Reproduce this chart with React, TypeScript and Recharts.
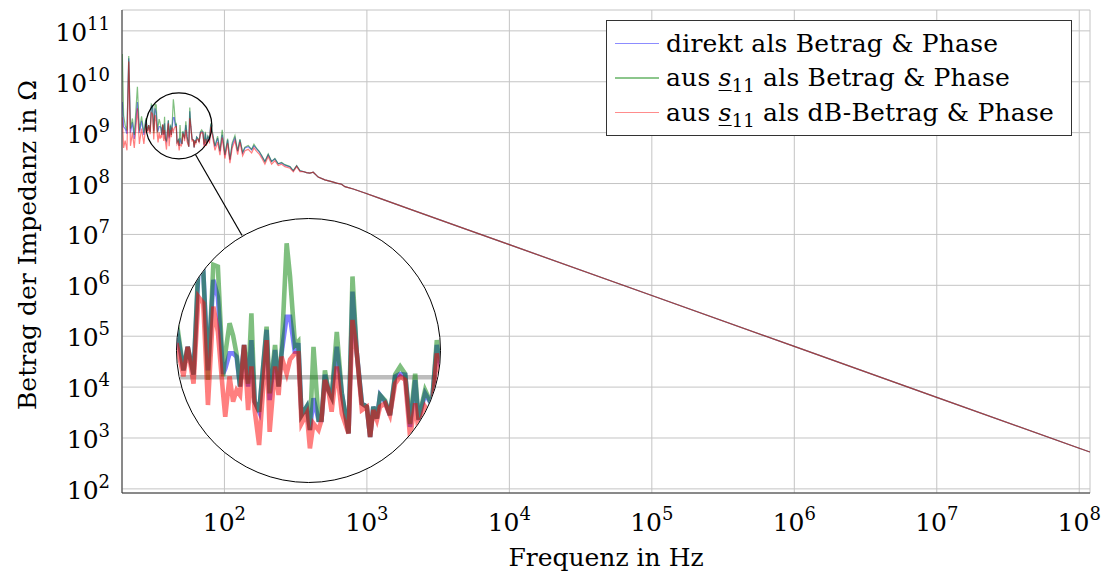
import React from 'react';
import { LineChart, Line, XAxis, YAxis, CartesianGrid, ReferenceDot, ReferenceLine } from 'recharts';

// Noisy low-frequency part (and off the magnified spy circle)
const freqNoisy = [
  19.2, 19.6, 20.1, 20.7, 21.3, 21.9, 22.6, 23.3, 24.5, 25.3, 26.2, 27.2,
  28.1, 28.9, 29.4, 30.1, 30.7, 31.3, 31.9, 32.6, 33.2, 33.9,
  34.2, 34.8, 35.3, 35.8, 36.3, 36.9, 37.5, 38.0, 38.5, 39.2,
  40.4, 40.9, 41.8, 42.4, 42.9, 43.8, 44.4, 45.3, 45.9, 46.5,
  47.5, 48.1, 48.8, 49.8, 50.4, 51.1, 51.8, 52.5, 53.6, 54.7,
  56.2, 57.1, 58.1, 59.3, 60.5, 61.3, 62.1, 63.0, 63.8, 65.1,
  66.4, 67.8, 69.2, 70.6, 72.0, 73.5, 74.5, 76.5, 78.6, 80.2,
  85.8, 89.6, 93.0, 96.5, 100.8, 105.3, 109.3, 113.4, 118.5, 123.8,
  128.5, 134.2, 139.3, 146.9, 155.2, 161.1, 168.3, 175.5, 182.3, 192.4,
  202.9, 214.3, 226, 238.6, 251.8, 265.8, 288.4, 304.3, 321.3, 339,
];

const direktNoisy = [
  4.0e9, 1.3e9, 1.2e9, 9.5e8, 2.9e10, 1.0e9, 1.6e9, 7.5e8, 4.0e9, 1.0e9, 1.7e9, 9.0e8,
  1.77e9, 1.08e9, 1.41e9, 1.03e9, 3.36e9, 3.36e9, 1.08e9, 3.0e9, 2.48e9, 1.04e9,
  1.1e9, 1.31e9, 1.31e9, 1.26e9, 9.0e8, 1.44e9, 9.0e8, 1.52e9, 7.59e8, 6.78e8,
  1.71e9, 7.73e8, 1.36e9, 9.0e8, 1.31e9, 1.98e9, 1.98e9, 1.31e9, 1.47e9, 6.52e8,
  7.17e8, 5.51e8, 7.88e8, 6.17e8, 6.17e8, 1.03e9, 8.65e8, 8.0e8, 1.41e9, 8.34e8,
  5.3e8, 2.63e9, 1.31e9, 7.45e8, 7.17e8, 5.1e8, 7.17e8, 6.28e8, 8.18e8, 7.59e8,
  6.52e8, 1.01e9, 1.04e9, 1.03e9, 5.71e8, 9.7e8, 6.17e8, 8.34e8, 7.31e8, 1.44e9,
  5.3e8, 7.8e8, 4.3e8, 9.1e8, 3.6e8, 7.2e8, 2.9e8, 5.8e8, 7.9e8, 4.3e8,
  7.2e8, 4.0e8, 5.0e8, 5.3e8, 4.6e8, 5.5e8, 4.8e8, 4.2e8, 3.5e8, 2.7e8,
  3.7e8, 2.7e8, 3.05e8, 2.45e8, 2.55e8, 2.3e8, 2.13e8, 1.78e8, 2.23e8, 1.78e8,
];

const s11Noisy = [
  3.5e10, 2.2e9, 1.4e9, 1.1e9, 3.2e10, 1.2e9, 1.9e9, 9.0e8, 8.0e9, 1.1e9, 2.1e9, 1.0e9,
  1.91e9, 1.08e9, 1.41e9, 1.03e9, 3.62e9, 3.36e9, 9.7e8, 3.56e9, 3.49e9, 1.01e9,
  1.3e9, 1.84e9, 1.6e9, 1.3e9, 9.0e8, 1.44e9, 9.3e8, 2.06e9, 7.6e8, 6.78e8,
  1.77e9, 8.34e8, 1.44e9, 9.0e8, 1.31e9, 4.54e9, 3.12e9, 1.44e9, 1.5e9, 6.5e8,
  7.2e8, 5.51e8, 1.41e9, 6.2e8, 6.2e8, 1.08e9, 8.65e8, 8.0e8, 1.67e9, 8.34e8,
  5.3e8, 3.12e9, 1.31e9, 7.45e8, 7.17e8, 5.1e8, 7.17e8, 6.28e8, 8.18e8, 7.7e8,
  6.52e8, 1.03e9, 1.13e9, 1.04e9, 5.9e8, 1.04e9, 6.2e8, 8.65e8, 7.31e8, 1.52e9,
  5.5e8, 8.5e8, 4.4e8, 1.14e9, 3.7e8, 7.6e8, 3.0e8, 6.3e8, 8.8e8, 4.4e8,
  7.5e8, 4.1e8, 5.2e8, 5.6e8, 4.7e8, 5.9e8, 4.9e8, 4.3e8, 3.6e8, 2.7e8,
  3.8e8, 2.7e8, 3.1e8, 2.45e8, 2.6e8, 2.35e8, 2.15e8, 1.8e8, 2.25e8, 1.8e8,
];

const s11dBNoisy = [
  2.0e9, 5.0e8, 7.0e8, 4.5e8, 2.5e10, 5.5e8, 1.0e9, 5.0e8, 3.0e9, 6.0e8, 1.2e9, 6.0e8,
  1.47e9, 1.01e9, 1.41e9, 9.3e8, 2.48e9, 2.31e9, 7.31e8, 2.22e9, 1.67e9, 8.34e8,
  6.4e8, 1.01e9, 7.59e8, 8.65e8, 8.18e8, 1.44e9, 6.9e8, 1.13e9, 6.9e8, 4.65e8,
  1.52e9, 5.4e8, 1.13e9, 8.18e8, 1.26e9, 1.04e9, 1.22e9, 1.31e9, 1.31e9, 5.93e8,
  6.65e8, 4.48e8, 5.93e8, 5.51e8, 6.17e8, 9.7e8, 8.65e8, 6.78e8, 1.13e9, 6.65e8,
  5.3e8, 1.91e9, 1.31e9, 6.9e8, 7.17e8, 5.1e8, 6.9e8, 6.17e8, 7.17e8, 7.45e8,
  6.52e8, 9.3e8, 1.01e9, 9.7e8, 5.1e8, 7.45e8, 5.5e8, 7.17e8, 6.4e8, 1.31e9,
  4.5e8, 6.5e8, 3.6e8, 8.0e8, 3.1e8, 6.2e8, 2.5e8, 5.0e8, 7.0e8, 3.7e8,
  6.5e8, 3.5e8, 4.4e8, 4.7e8, 4.0e8, 5.0e8, 4.3e8, 3.8e8, 3.2e8, 2.4e8,
  3.4e8, 2.4e8, 2.8e8, 2.25e8, 2.4e8, 2.15e8, 2.0e8, 1.7e8, 2.15e8, 1.72e8,
];

// above ~350 Hz the three curves lie on top of each other
const freqTail = [357, 377, 398, 420, 439, 455, 507, 565, 613, 664, 701, 802, 968, 1234, 2000, 5000, 1e4, 1e5, 1e6, 1e7, 1e8, 1.19e8];
const impedanceTail = [1.72e8, 1.64e8, 1.6e8, 1.67e8, 1.48e8, 1.34e8, 1.18e8, 1.09e8, 1.02e8, 9.7e7, 8.7e7, 7.8e7, 6.5e7, 5.1e7, 3.15e7, 1.26e7, 6.3e6, 6.3e5, 6.3e4, 6.3e3, 630, 530];

const xMajorTicks = [1e2, 1e3, 1e4, 1e5, 1e6, 1e7, 1e8];
const yMajorTicks = [1e2, 1e3, 1e4, 1e5, 1e6, 1e7, 1e8, 1e9, 1e10, 1e11];

const seriesNames = ['direkt als Betrag & Phase', 'aus s11 als Betrag & Phase', 'aus s11 als dB-Betrag & Phase'];

const X_DOMAIN = [19.1, 1.19e8];
const Y_DOMAIN = [83, 2.57e11];
const SPY_X_DOMAIN = [28.16, 81.23];
const SPY_Y_DOMAIN = [3.065e8, 5.97e9];

const FONT = '"DejaVu Serif", serif';
const COLORS = { direkt: '#0000ff', s11: '#008000', s11dB: '#ff0000' };
const FRAME = '#333';
const TICK = '#666';

const rows = [
  ...freqNoisy.map((f, i) => ({ f, direkt: direktNoisy[i], s11: s11Noisy[i], s11dB: s11dBNoisy[i] })),
  ...freqTail.map((f, i) => ({ f, direkt: impedanceTail[i], s11: impedanceTail[i], s11dB: impedanceTail[i] })),
];

// tick positions 1..9 x 10^n inside a domain
function logTicks(lo: number, hi: number) {
  const out: number[] = [];
  for (let e = Math.floor(Math.log10(lo)); e <= Math.ceil(Math.log10(hi)); e++) {
    for (let m = 1; m <= 9; m++) {
      const v = m * Math.pow(10, e);
      if (v >= lo && v <= hi) out.push(v);
    }
  }
  return out;
}
const xAllTicks = logTicks(X_DOMAIN[0], X_DOMAIN[1]);
const yAllTicks = logTicks(Y_DOMAIN[0], Y_DOMAIN[1]);

const isMajor = (v: number) => Math.abs(Math.log10(v) - Math.round(Math.log10(v))) < 1e-6;
const tickLen = (v: number) => (isMajor(v) ? 12 : 7);

const BottomTick = ({ x, y, payload }: any) => (
  <line x1={x} x2={x} y1={y} y2={y - tickLen(payload.value)} stroke={TICK} strokeWidth={0.8} />
);
const TopTick = ({ x, y, payload }: any) => (
  <line x1={x} x2={x} y1={y} y2={y + tickLen(payload.value)} stroke={TICK} strokeWidth={0.8} />
);
const LeftTick = ({ x, y, payload }: any) => (
  <line x1={x} x2={x + tickLen(payload.value)} y1={y} y2={y} stroke={TICK} strokeWidth={0.8} />
);
const RightTick = ({ x, y, payload }: any) => (
  <line x1={x} x2={x - tickLen(payload.value)} y1={y} y2={y} stroke={TICK} strokeWidth={0.8} />
);

const XLabelTick = ({ x, payload }: any) => (
  <text x={x} y={531} textAnchor="middle" fontFamily={FONT} fontSize={25} fill="#000">
    10<tspan dy={-11} fontSize={18}>{Math.round(Math.log10(payload.value))}</tspan>
  </text>
);
const YLabelTick = ({ y, payload }: any) => (
  <text x={110} y={y + 10} textAnchor="end" fontFamily={FONT} fontSize={25} fill="#000">
    10<tspan dy={-11} fontSize={18}>{Math.round(Math.log10(payload.value))}</tspan>
  </text>
);

const S11 = () => (
  <>
    <span style={{ fontStyle: 'italic', textDecoration: 'underline', textUnderlineOffset: '4px', textDecorationThickness: '1.3px' }}>s</span>
    <span style={{ fontSize: 18, position: 'relative', top: 6 }}>11</span>
  </>
);

const legendRows = [
  { color: 'rgba(0,0,255,0.45)', label: <>{seriesNames[0]}</> },
  { color: 'rgba(0,128,0,0.45)', label: <>aus <S11 /> als Betrag &amp; Phase</> },
  { color: 'rgba(255,0,0,0.45)', label: <>aus <S11 /> als dB-Betrag &amp; Phase</> },
];

const logAxisProps = { type: 'number' as const, scale: 'log' as const, allowDataOverflow: true, interval: 0 as const };

export default function App() {
  return (
    <div style={{ position: 'absolute', left: 0, top: 0, width: 1102, height: 574, background: '#fff', fontFamily: FONT }}>
      <LineChart width={1102} height={574} data={rows} margin={{ top: 10, right: 12, bottom: 31, left: 12 }}>
        <CartesianGrid stroke="#c4c4c4" strokeWidth={1} />
        <XAxis dataKey="f" {...logAxisProps} domain={X_DOMAIN} ticks={xMajorTicks} tick={XLabelTick} tickLine={false} axisLine={{ stroke: FRAME }} height={50} />
        <YAxis {...logAxisProps} domain={Y_DOMAIN} ticks={yMajorTicks} tick={YLabelTick} tickLine={false} axisLine={{ stroke: FRAME }} width={110} />
        <XAxis xAxisId="bt" dataKey="f" orientation="bottom" mirror {...logAxisProps} domain={X_DOMAIN} ticks={xAllTicks} tick={BottomTick} tickLine={false} tickSize={0} tickMargin={0} axisLine={false} height={0} />
        <XAxis xAxisId="tp" dataKey="f" orientation="top" mirror {...logAxisProps} domain={X_DOMAIN} ticks={xAllTicks} tick={TopTick} tickLine={false} tickSize={0} tickMargin={0} axisLine={{ stroke: FRAME }} height={0} />
        <YAxis yAxisId="lf" orientation="left" mirror {...logAxisProps} domain={Y_DOMAIN} ticks={yAllTicks} tick={LeftTick} tickLine={false} tickSize={0} tickMargin={0} axisLine={false} width={0} />
        <YAxis yAxisId="rt" orientation="right" mirror {...logAxisProps} domain={Y_DOMAIN} ticks={yAllTicks} tick={RightTick} tickLine={false} tickSize={0} tickMargin={0} axisLine={{ stroke: FRAME }} width={0} />
        <Line dataKey="direkt" name={seriesNames[0]} stroke={COLORS.direkt} strokeOpacity={0.5} strokeWidth={1.2} dot={false} isAnimationActive={false} />
        <Line dataKey="s11" name={seriesNames[1]} stroke={COLORS.s11} strokeOpacity={0.5} strokeWidth={1.2} dot={false} isAnimationActive={false} />
        <Line dataKey="s11dB" name={seriesNames[2]} stroke={COLORS.s11dB} strokeOpacity={0.5} strokeWidth={1.2} dot={false} isAnimationActive={false} />
        {/* spy: small circle and connector */}
        <ReferenceDot x={47.9} y={1.36e9} r={33} fill="none" stroke="#000" strokeWidth={1.2} />
        <ReferenceLine segment={[{ x: 62.6, y: 3.73e8 }, { x: 133, y: 9.5e6 }]} stroke="#000" strokeWidth={1.2} />
      </LineChart>

      {/* magnified view */}
      <div style={{ position: 'absolute', left: 176, top: 218, width: 265, height: 265, borderRadius: '50%', overflow: 'hidden', border: '1.2px solid #000', boxSizing: 'border-box', background: '#fff' }}>
        <LineChart width={263} height={263} data={rows} margin={{ top: 0, right: 0, bottom: 0, left: 0 }}>
          <XAxis dataKey="f" type="number" scale="log" domain={SPY_X_DOMAIN} allowDataOverflow hide />
          <YAxis type="number" scale="log" domain={SPY_Y_DOMAIN} allowDataOverflow hide />
          <ReferenceLine y={1e9} stroke="#bdbdbd" strokeWidth={4.6} />
          <Line dataKey="direkt" stroke={COLORS.direkt} strokeOpacity={0.5} strokeWidth={4.6} dot={false} isAnimationActive={false} />
          <Line dataKey="s11" stroke={COLORS.s11} strokeOpacity={0.5} strokeWidth={4.6} dot={false} isAnimationActive={false} />
          <Line dataKey="s11dB" stroke={COLORS.s11dB} strokeOpacity={0.5} strokeWidth={4.6} dot={false} isAnimationActive={false} />
        </LineChart>
      </div>

      {/* legend */}
      <div style={{ position: 'absolute', left: 606, top: 20, width: 466, height: 116, border: `1px solid ${FRAME}`, boxSizing: 'border-box', background: '#fff', paddingTop: 5, paddingLeft: 8 }}>
        {legendRows.map((r, i) => (
          <div key={i} style={{ display: 'flex', alignItems: 'center', height: 34.5 }}>
            <div style={{ width: 44, height: 1.5, background: r.color, marginRight: 7 }} />
            <div style={{ fontSize: 25, letterSpacing: 0.2, lineHeight: 1, whiteSpace: 'nowrap' }}>{r.label}</div>
          </div>
        ))}
      </div>

      {/* axis titles */}
      <div style={{ position: 'absolute', left: 406, width: 400, top: 543, textAlign: 'center', fontSize: 25, lineHeight: '30px' }}>
        Frequenz in Hz
      </div>
      <div style={{ position: 'absolute', left: 28, top: 245, transform: 'translate(-50%, -50%) rotate(-90deg)', fontSize: 25, lineHeight: '30px', whiteSpace: 'nowrap' }}>
        Betrag der Impedanz in Ω
      </div>
    </div>
  );
}
